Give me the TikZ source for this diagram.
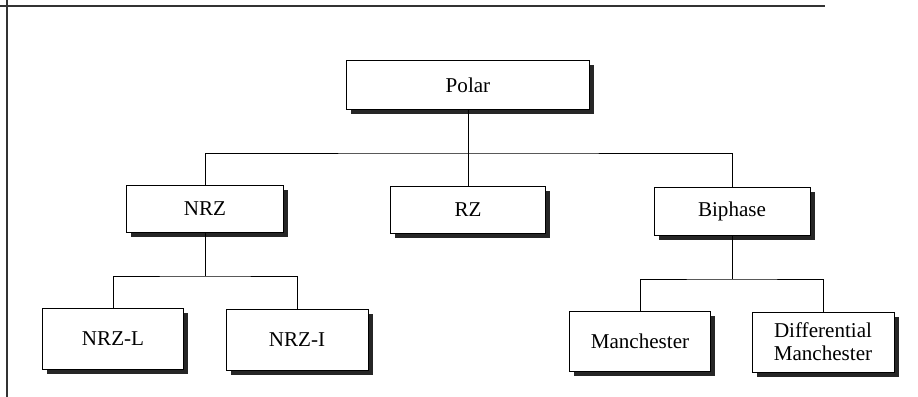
\documentclass[tikz,border=0pt]{standalone}
\usepackage{fontspec}
\setmainfont{Liberation Serif}
\usetikzlibrary{shadows}

\tikzset{
    codebox/.style={draw, thick, fill=white, align=center, inner sep=0pt,
        font=\fontsize{18}{19.6}\selectfont,
        drop shadow={shadow xshift=0.14cm, shadow yshift=-0.15cm, fill=black!85, opacity=1}},
    link/.style={draw, line width=0.7pt}
}

\begin{document}
\begin{tikzpicture}[x=0.03cm, y=0.03cm]

    \useasboundingbox[fill=white] (0,0) rectangle (918,397);

    \draw[line width=1pt, black!80] (7,0) -- (7,397);
    \draw[line width=1pt, black!80] (0,391) -- (825,391);

    \node[codebox, minimum width=7.29cm, minimum height=1.47cm] (polar) at (468,312) {Polar};
    \node[codebox, minimum width=4.71cm, minimum height=1.41cm] (nrz) at (205,188) {NRZ};
    \node[codebox, minimum width=4.65cm, minimum height=1.41cm] (rz) at (468,187) {RZ};
    \node[codebox, minimum width=4.68cm, minimum height=1.44cm] (biphase) at (732,186) {Biphase};
    \node[codebox, minimum width=4.23cm, minimum height=1.83cm] (nrzl) at (113,58) {NRZ-L};
    \node[codebox, minimum width=4.26cm, minimum height=1.83cm] (nrzi) at (297,57) {NRZ-I};
    \node[codebox, minimum width=4.23cm, minimum height=1.80cm] (manch) at (640,56) {Manchester};
    \node[codebox, minimum width=4.26cm, minimum height=1.80cm] (diffmanch) at (823,55) {Differential\\Manchester};

    \coordinate (bus1) at (468,244);
    \coordinate (bus2) at (205,121);
    \coordinate (bus3) at (732,118);

    \draw[link] (polar.south) -- (rz.north);
    \draw[link] (nrz.north) |- (bus1) -| (biphase.north);
    \draw[link] (nrz.south) -- (bus2);
    \draw[link] (nrzl.north) |- (bus2) -| (nrzi.north);
    \draw[link] (biphase.south) -- (bus3);
    \draw[link] (manch.north) |- (bus3) -| (diffmanch.north);

\end{tikzpicture}
\end{document}
